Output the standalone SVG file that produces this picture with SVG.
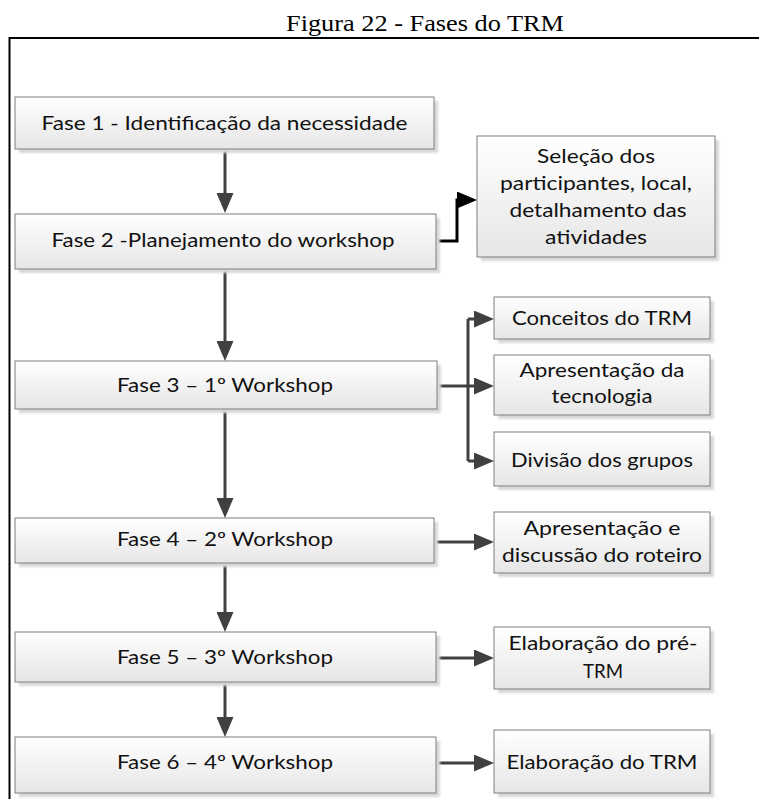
<svg xmlns="http://www.w3.org/2000/svg" width="759" height="799" viewBox="0 0 759 799">
  <defs>
    <linearGradient id="boxFill" x1="0" y1="0" x2="0" y2="1">
      <stop offset="0" stop-color="#ffffff"/>
      <stop offset="1" stop-color="#e6e6e6"/>
    </linearGradient>
    <filter id="soft" x="-5%" y="-5%" width="110%" height="120%">
      <feGaussianBlur stdDeviation="1"/>
    </filter>
    <marker id="arrowGray" viewBox="0 0 20 17" refX="10" refY="8.5" markerWidth="20" markerHeight="17" markerUnits="userSpaceOnUse" orient="auto">
      <path d="M0,0 L20,8.5 L0,17 Z" fill="#404040"/>
    </marker>
    <marker id="arrowBlack" viewBox="0 0 20 17" refX="10" refY="8.5" markerWidth="20" markerHeight="17" markerUnits="userSpaceOnUse" orient="auto">
      <path d="M0,0 L20,8.5 L0,17 Z" fill="#000000"/>
    </marker>
  </defs>
  <style>
    .shadow { fill: #d8d8d8; filter: url(#soft); }
    .box { fill: url(#boxFill); stroke: #7f7f7f; stroke-width: 1; }
    .label { font-family: Lato, "Open Sans", sans-serif; font-size: 19px; fill: #111111; text-anchor: middle; }
    .title { font-family: "Liberation Serif", "Times New Roman", serif; font-size: 23px; fill: #000000; text-anchor: middle; }
    .frame { fill: none; stroke: #000000; stroke-width: 2; }
    .conn { fill: none; stroke: #404040; stroke-width: 3; }
    .conn-dark { fill: none; stroke: #000000; stroke-width: 3; }
  </style>

  <rect x="0" y="0" width="759" height="799" fill="#ffffff"/>

  <!-- caption and frame -->
  <text class="title" x="425" y="31" textLength="278" lengthAdjust="spacingAndGlyphs">Figura 22 - Fases do TRM</text>
  <path class="frame" d="M9.5,799 V38 H759"/>

  <!-- connectors -->
  <g id="connectors">
    <path class="conn" d="M225,149 V203" marker-end="url(#arrowGray)"/>
    <path class="conn" d="M225,269 V351" marker-end="url(#arrowGray)"/>
    <path class="conn" d="M225,409 V508" marker-end="url(#arrowGray)"/>
    <path class="conn" d="M225,563 V622" marker-end="url(#arrowGray)"/>
    <path class="conn" d="M225,682 V727" marker-end="url(#arrowGray)"/>
    <path class="conn-dark" d="M436,241 H457 V200 H467" marker-end="url(#arrowBlack)"/>
    <path class="conn" d="M437,386 H484" marker-end="url(#arrowGray)"/>
    <path class="conn" d="M468,319 V461"/>
    <path class="conn" d="M468,319 H484" marker-end="url(#arrowGray)"/>
    <path class="conn" d="M468,461 H484" marker-end="url(#arrowGray)"/>
    <path class="conn" d="M434,542 H484" marker-end="url(#arrowGray)"/>
    <path class="conn" d="M436,658 H484" marker-end="url(#arrowGray)"/>
    <path class="conn" d="M436,763 H484" marker-end="url(#arrowGray)"/>
  </g>

  <!-- phases -->
  <g id="fase1">
    <rect class="shadow" x="19" y="101" width="419" height="52"/>
    <rect class="box" x="15" y="97" width="419" height="52"/>
    <text class="label" x="224.5" y="130" textLength="366" lengthAdjust="spacingAndGlyphs">Fase 1 - Identificação da necessidade</text>
  </g>
  <g id="fase2">
    <rect class="shadow" x="19" y="218" width="421" height="55"/>
    <rect class="box" x="15" y="214" width="421" height="55"/>
    <text class="label" x="223" y="247" textLength="343" lengthAdjust="spacingAndGlyphs">Fase 2 -Planejamento do workshop</text>
  </g>
  <g id="selecao">
    <rect class="shadow" x="481" y="140" width="238" height="121"/>
    <rect class="box" x="477" y="136" width="238" height="121"/>
    <text class="label" x="596" y="163" textLength="118" lengthAdjust="spacingAndGlyphs">Seleção dos</text>
    <text class="label" x="596" y="190" textLength="192" lengthAdjust="spacingAndGlyphs">participantes, local,</text>
    <text class="label" x="598" y="217" textLength="177" lengthAdjust="spacingAndGlyphs">detalhamento das</text>
    <text class="label" x="596" y="244" textLength="102" lengthAdjust="spacingAndGlyphs">atividades</text>
  </g>
  <g id="fase3">
    <rect class="shadow" x="19" y="365" width="422" height="48"/>
    <rect class="box" x="15" y="361" width="422" height="48"/>
    <text class="label" x="225" y="392" textLength="216" lengthAdjust="spacingAndGlyphs">Fase 3 – 1º Workshop</text>
  </g>
  <g id="conceitos">
    <rect class="shadow" x="498" y="301" width="216" height="42"/>
    <rect class="box" x="494" y="297" width="216" height="42"/>
    <text class="label" x="602" y="325" textLength="180" lengthAdjust="spacingAndGlyphs">Conceitos do TRM</text>
  </g>
  <g id="tecnologia">
    <rect class="shadow" x="498" y="359" width="216" height="60"/>
    <rect class="box" x="494" y="355" width="216" height="60"/>
    <text class="label" x="602" y="377" textLength="165" lengthAdjust="spacingAndGlyphs">Apresentação da</text>
    <text class="label" x="602" y="403" textLength="101" lengthAdjust="spacingAndGlyphs">tecnologia</text>
  </g>
  <g id="grupos">
    <rect class="shadow" x="498" y="436" width="216" height="54"/>
    <rect class="box" x="494" y="432" width="216" height="54"/>
    <text class="label" x="602" y="467" textLength="182" lengthAdjust="spacingAndGlyphs">Divisão dos grupos</text>
  </g>
  <g id="fase4">
    <rect class="shadow" x="19" y="522" width="419" height="45"/>
    <rect class="box" x="15" y="518" width="419" height="45"/>
    <text class="label" x="225" y="546" textLength="216" lengthAdjust="spacingAndGlyphs">Fase 4 – 2º Workshop</text>
  </g>
  <g id="roteiro">
    <rect class="shadow" x="498" y="516" width="216" height="61"/>
    <rect class="box" x="494" y="512" width="216" height="61"/>
    <text class="label" x="602" y="535" textLength="157" lengthAdjust="spacingAndGlyphs">Apresentação e</text>
    <text class="label" x="602" y="562" textLength="200" lengthAdjust="spacingAndGlyphs">discussão do roteiro</text>
  </g>
  <g id="fase5">
    <rect class="shadow" x="19" y="636" width="421" height="50"/>
    <rect class="box" x="15" y="632" width="421" height="50"/>
    <text class="label" x="225" y="664" textLength="216" lengthAdjust="spacingAndGlyphs">Fase 5 – 3º Workshop</text>
  </g>
  <g id="pretrm">
    <rect class="shadow" x="498" y="631" width="216" height="62"/>
    <rect class="box" x="494" y="627" width="216" height="62"/>
    <text class="label" x="603" y="650" textLength="189" lengthAdjust="spacingAndGlyphs">Elaboração do pré-</text>
    <text class="label" x="603" y="678" textLength="40" lengthAdjust="spacingAndGlyphs">TRM</text>
  </g>
  <g id="fase6">
    <rect class="shadow" x="19" y="741" width="421" height="56"/>
    <rect class="box" x="15" y="737" width="421" height="56"/>
    <text class="label" x="225" y="769" textLength="216" lengthAdjust="spacingAndGlyphs">Fase 6 – 4º Workshop</text>
  </g>
  <g id="trm">
    <rect class="shadow" x="498" y="734" width="216" height="63"/>
    <rect class="box" x="494" y="730" width="216" height="63"/>
    <text class="label" x="602" y="769" textLength="191" lengthAdjust="spacingAndGlyphs">Elaboração do TRM</text>
  </g>
</svg>
